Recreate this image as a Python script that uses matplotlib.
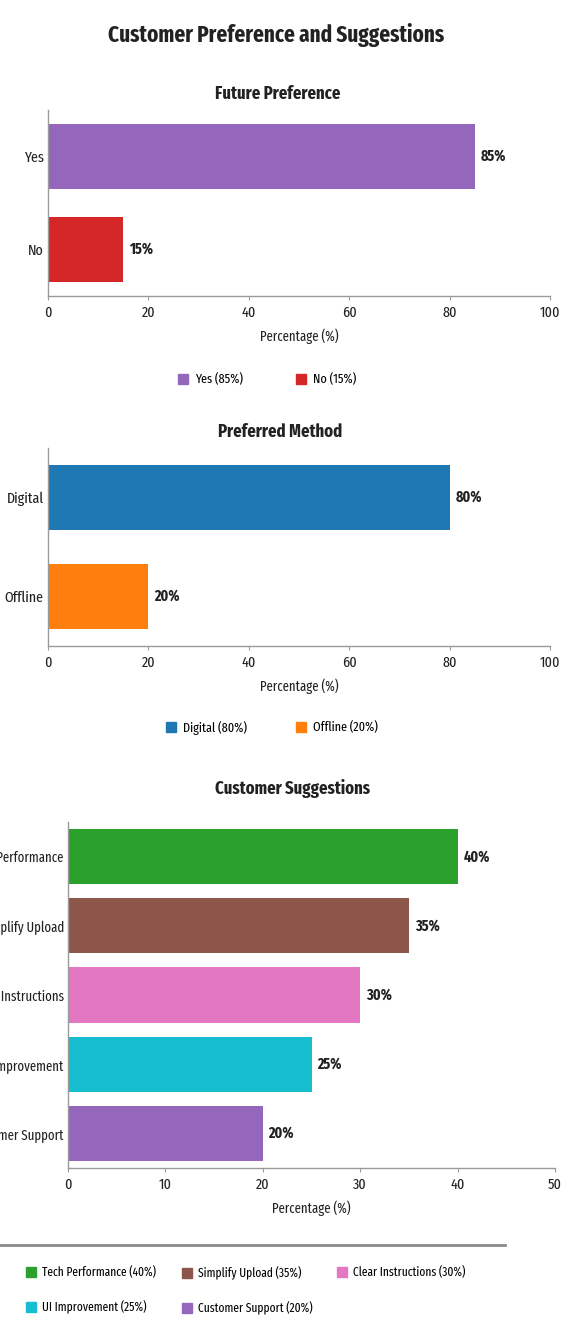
import matplotlib
matplotlib.use("Agg")
import matplotlib.pyplot as plt
from matplotlib.lines import Line2D

plt.rcParams['font.family'] = ['Fira Sans Extra Condensed', 'DejaVu Sans']

# Data
pref_labels = ["Yes", "No"]
pref_values = [85, 15]
pref_colors = ["#9467bd", "#d62728"]

method_labels = ["Digital", "Offline"]
method_values = [80, 20]
method_colors = ["#1f77b4", "#ff7f0e"]

sugg_labels = ["Tech Performance", "Simplify Upload", "Clear Instructions",
               "UI Improvement", "Customer Support"]
sugg_values = [40, 35, 30, 25, 20]
sugg_colors = ["#2ca02c", "#8c564b", "#e377c2", "#17becf", "#9467bd"]

W, H = 576, 1330
fig = plt.figure(figsize=(W / 100, H / 100), dpi=100)
fig.patch.set_facecolor("white")
TXT = "#222222"


def px_axes(left, top, right, bottom):
    return fig.add_axes([left / W, 1 - bottom / H, (right - left) / W, (bottom - top) / H])


def style(ax, xmax, step, ylabelsize):
    ax.set_xlim(0, xmax)
    ax.set_xticks(range(0, xmax + 1, step))
    for s in ("top", "right"):
        ax.spines[s].set_visible(False)
    for s in ("left", "bottom"):
        ax.spines[s].set_color("#9a9a9a")
        ax.spines[s].set_linewidth(1.0)
    ax.tick_params(axis="x", colors="#9a9a9a", labelcolor=TXT, labelsize=11, length=3, pad=4)
    ax.tick_params(axis="y", length=0, labelsize=ylabelsize, labelcolor=TXT, pad=3)
    ax.set_xlabel("Percentage (%)", fontsize=10, color=TXT, labelpad=6)


def panel(ax, labels, values, colors, xmax, step, height, title, pad, title_x,
          ylabelsize=11):
    n = len(labels)
    ypos = list(range(n))[::-1]
    ax.barh(ypos, values, height=height, color=colors)
    ax.set_yticks(ypos)
    ax.set_yticklabels(labels)
    ax.set_ylim(-0.5, n - 0.5)
    for y, v in zip(ypos, values):
        ax.text(v + xmax * 0.012, y, f"{v}%", va="center", ha="left",
                fontsize=11, fontweight="bold", color=TXT)
    style(ax, xmax, step, ylabelsize)
    ax.set_title(title, fontsize=13, fontweight="bold", pad=pad, color=TXT, x=title_x)


def legend_column(entries, x, y, fontsize=9.5):
    handles = [Line2D([], [], marker="s", linestyle="none", color=c, markersize=7.5)
               for _, _, c in entries]
    texts = [f"{l} ({v}%)" for l, v, _ in entries]
    fig.legend(handles, texts, loc="upper left", bbox_to_anchor=(x / W, 1 - y / H),
               frameon=False, fontsize=fontsize, handlelength=0.8, handletextpad=0.5,
               borderpad=0, borderaxespad=0, labelspacing=1.75)


fig.text(276 / W, 1 - 35 / H, "Customer Preference and Suggestions", ha="center",
         va="center", fontsize=16.5, fontweight="bold", color=TXT)

# Future preference
ax1 = px_axes(48, 110, 550, 296)
panel(ax1, pref_labels, pref_values, pref_colors, 100, 20, 0.7, "Future Preference", 8, 0.458)
for i, x in enumerate([178, 296]):
    legend_column([(pref_labels[i], pref_values[i], pref_colors[i])], x, 373)

# Preferred method
ax2 = px_axes(48, 448, 550, 646)
panel(ax2, method_labels, method_values, method_colors, 100, 20, 0.66, "Preferred Method",
      8, 0.462)
for i, x in enumerate([166, 296]):
    legend_column([(method_labels[i], method_values[i], method_colors[i])], x, 721)

# Customer suggestions
ax3 = px_axes(68, 822, 555, 1168)
panel(ax3, sugg_labels, sugg_values, sugg_colors, 50, 10, 0.8, "Customer Suggestions", 20,
      0.46, ylabelsize=10)

fig.add_artist(Line2D([0, 505 / W], [1 - 1245 / H, 1 - 1245 / H], color="#8a8a8a", lw=2))
entries = list(zip(sugg_labels, sugg_values, sugg_colors))
legend_column([entries[0], entries[3]], 26, 1266, 9)
legend_column([entries[1], entries[4]], 182, 1266, 9)
legend_column([entries[2]], 337, 1266, 9)

fig.savefig("out.png", dpi=100, facecolor="white")
